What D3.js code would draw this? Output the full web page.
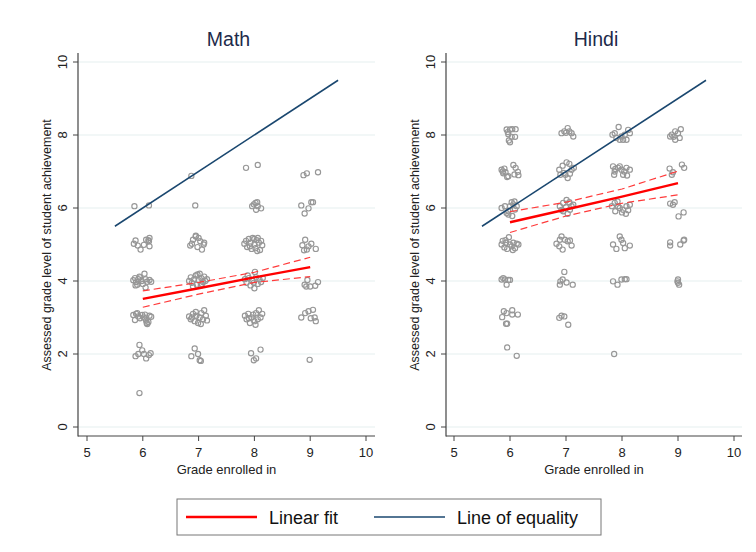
<!DOCTYPE html>
<html lang="en">
<head>
<meta charset="UTF-8">
<title>Math and Hindi</title>
<script src="https://d3js.org/d3.v7.min.js"></script>
<style>
  body, html { margin: 0; padding: 0; background: #fff; }
  svg { font-family: "Liberation Sans", Arial, sans-serif; }
</style>
</head>
<body>
<div id="chart"></div>
<script>
// axis ticks
var xTicks = [5, 6, 7, 8, 9, 10];
var yTicks = [0, 2, 4, 6, 8, 10];
var equalityX = [5.5, 9.5];

// linear fit and its confidence band, read at grades 6..9
var fitGrades = [6, 7, 8, 9];
var mathFit   = [3.51, 3.80, 4.10, 4.38];
var mathUpper = [3.73, 3.96, 4.24, 4.65];
var mathLower = [3.28, 3.64, 3.96, 4.12];
var hindiFit   = [5.61, 5.96, 6.31, 6.68];
var hindiUpper = [5.90, 6.16, 6.52, 7.01];
var hindiLower = [5.33, 5.78, 6.13, 6.36];

// jittered student points [grade, assessed level]
var mathPoints = [
  [5.85,6.05],[6.11,6.07],
  [5.87,5.11],[5.91,4.97],[5.96,4.86],[6.02,4.99],[6.11,5.09],[6.12,5.18],[6.12,4.95],[5.84,5.02],[6.06,5.13],[6.1,5.12],
  [5.83,4.02],[5.86,4.08],[5.88,3.97],[5.92,4.05],[5.95,4.1],[5.9,3.9],[5.98,4.0],[6.03,4.2],[6.05,4.05],[6.08,3.98],[6.0,3.92],[6.12,4.03],[6.15,3.98],[6.05,3.82],[5.94,4.12],[5.87,3.88],
  [5.83,3.07],[5.86,2.93],[5.88,3.1],[5.92,3.03],[5.95,2.98],[5.99,3.07],[6.02,3.0],[6.06,2.92],[6.07,2.85],[6.1,2.88],[6.12,3.05],[6.15,3.02],[6.08,2.82],[5.9,3.12],[6.04,3.08],
  [5.94,2.25],[5.87,1.94],[5.99,2.1],[6.06,1.88],[6.14,2.02],[6.11,1.97],[6.02,2.0],[5.92,2.0],
  [5.94,0.93],
  [6.87,6.88],[6.94,6.07],
  [6.85,4.97],[6.9,5.13],[6.95,5.24],[7.0,5.18],[7.03,5.09],[7.09,5.0],[7.06,4.86],[6.98,4.93],[6.88,5.02],[7.1,5.05],[6.95,5.22],
  [6.83,4.0],[6.86,4.1],[6.88,3.95],[6.92,4.05],[6.95,4.15],[6.97,3.9],[7.0,4.02],[7.02,4.2],[7.05,4.08],[7.08,3.97],[7.1,4.12],[7.12,4.0],[7.15,4.05],[6.9,3.85],[7.04,3.88],[6.98,4.18],[7.06,3.92],
  [6.83,3.03],[6.86,2.95],[6.9,3.1],[6.93,2.9],[6.96,3.05],[6.99,2.85],[7.02,3.0],[7.05,3.12],[7.08,2.95],[7.1,3.2],[7.13,3.05],[7.15,2.92],[6.95,3.15],[7.04,2.82],[6.88,3.0],
  [6.93,2.15],[6.87,1.94],[6.99,2.0],[7.02,1.83],[7.04,1.81],
  [7.85,7.1],[8.06,7.18],
  [7.96,6.05],[8.02,6.14],[8.05,6.16],[8.06,6.05],[8.12,5.99],[8.03,5.95],[7.99,6.1],
  [7.82,5.02],[7.85,5.1],[7.87,4.93],[7.9,5.15],[7.93,5.05],[7.95,4.88],[7.97,5.18],[8.0,5.0],[8.02,4.9],[8.04,5.12],[8.06,5.18],[8.08,5.05],[8.1,4.85],[8.12,5.1],[8.14,4.98],[7.92,4.95],[8.0,5.15],[8.05,4.82],
  [7.83,4.05],[7.86,3.95],[7.9,4.08],[7.93,3.88],[7.96,4.02],[7.99,3.95],[8.01,4.25],[8.03,4.1],[8.06,3.92],[8.09,4.05],[8.12,3.97],[8.15,4.08],[8.0,3.8],[7.88,4.15],
  [7.83,3.05],[7.86,2.95],[7.89,3.1],[7.92,2.85],[7.95,3.0],[7.98,3.08],[8.0,2.9],[8.03,3.12],[8.06,2.95],[8.08,3.2],[8.11,3.0],[8.14,3.1],[7.9,2.98],[8.02,2.8],
  [7.94,2.02],[7.99,1.83],[8.03,1.88],[8.11,2.12],
  [8.88,6.9],[8.94,6.95],[9.14,6.98],
  [8.84,6.07],[8.97,5.99],[8.9,5.85],[9.02,6.16],[9.05,6.16],
  [8.91,5.13],[8.86,4.98],[8.94,4.86],[9.02,5.02],[9.1,4.88],[8.97,4.95],[8.89,4.84],
  [8.9,3.9],[8.95,4.03],[9.0,3.85],[9.09,3.87],[9.14,3.97],[8.93,3.85],
  [8.84,3.0],[8.91,3.12],[8.97,3.17],[9.05,3.21],[9.08,3.0],[9.1,2.9],[9.01,2.98],
  [8.99,1.84]
];

var hindiPoints = [
  [5.94,8.15],[6.0,8.15],[6.04,8.16],[6.1,8.16],[5.97,8.02],[6.03,7.95],[6.09,7.95],[5.98,7.85],[6.0,7.8],[5.96,8.08],
  [5.85,7.05],[5.87,7.0],[5.88,6.95],[5.9,7.08],[5.92,6.98],[6.06,7.18],[6.1,7.1],[6.14,6.99],[6.08,6.92],[5.97,6.87],[6.15,6.9],[5.95,6.85],
  [5.85,6.0],[5.91,6.05],[5.97,5.91],[6.0,6.05],[6.03,6.16],[6.06,6.1],[6.09,5.96],[6.12,6.05],[5.97,5.82],[6.04,5.78],[5.94,5.86],[6.08,6.18],
  [5.85,5.0],[5.87,5.1],[5.9,4.92],[5.93,5.05],[5.95,4.88],[5.98,5.2],[6.0,5.0],[6.03,4.95],[6.06,5.05],[6.09,4.9],[6.12,5.02],[6.15,5.0],[5.92,5.12],[6.05,4.85],
  [5.85,4.04],[5.88,4.08],[5.91,4.04],[5.94,3.9],[5.97,4.03],[6.0,4.03],
  [5.89,3.17],[5.86,3.01],[5.94,3.12],[6.04,3.2],[6.04,3.08],[6.14,3.08],[5.95,2.83],[5.93,2.83],
  [5.95,2.18],[6.12,1.95],
  [6.92,8.05],[6.97,8.1],[7.03,8.19],[7.06,8.1],[7.1,8.05],[7.13,7.96],[7.0,8.06],
  [6.88,7.05],[6.94,7.16],[7.01,7.25],[7.06,7.21],[7.1,7.05],[7.14,7.1],[6.99,6.91],[7.03,6.82],[6.96,6.96],[7.07,6.94],[6.9,6.91],
  [6.89,6.05],[6.95,6.14],[7.01,6.22],[7.06,6.16],[7.1,6.05],[7.13,6.09],[6.95,5.91],[7.03,5.84],[7.07,5.95],[6.92,5.95],[7.0,6.02],
  [6.83,5.02],[6.88,4.95],[6.92,5.22],[6.94,4.86],[6.98,5.13],[7.03,5.09],[7.07,5.11],[7.1,4.97],[6.89,5.13],
  [6.97,4.25],[6.94,4.04],[6.89,3.9],[7.01,3.96],[7.12,3.9],[6.9,3.99],
  [6.88,2.99],[6.92,3.05],[6.97,3.03],[7.04,2.8],
  [7.83,8.01],[7.87,8.05],[7.94,8.22],[7.99,7.96],[8.05,8.01],[8.11,8.14],[8.14,8.05],[7.96,7.87],[8.02,7.87],[7.9,7.92],[8.08,7.87],
  [7.84,7.14],[7.88,7.07],[7.93,7.1],[7.99,7.05],[8.04,7.0],[8.08,7.1],[8.14,7.05],[7.86,6.91],[8.02,6.91],[8.09,6.89],[7.87,7.0],[7.96,7.14],
  [7.82,6.05],[7.87,6.14],[7.92,6.18],[7.96,6.0],[8.02,5.95],[8.08,6.05],[8.14,6.09],[7.88,5.91],[8.0,5.88],[8.07,5.84],[7.93,6.05],[8.11,5.94],
  [7.84,5.0],[7.9,4.88],[7.96,5.22],[8.02,5.04],[8.05,4.9],[8.14,4.97],[7.99,5.13],
  [7.84,3.99],[7.92,3.9],[7.99,4.04],[8.05,4.05],[8.08,4.05],
  [7.86,2.0],
  [8.89,8.01],[8.92,7.95],[8.95,8.1],[9.0,8.05],[9.05,8.16],[9.03,7.92],[8.86,7.96],[8.95,7.87],
  [8.85,7.08],[8.91,6.98],[9.07,7.19],[9.11,7.1],[8.89,6.91],
  [8.86,6.12],[8.91,6.09],[8.94,6.16],[9.01,5.77],[9.1,5.88],
  [8.86,5.06],[8.86,4.97],[9.04,5.0],[9.1,5.11],[9.11,5.13],
  [9.0,4.04],[9.0,3.95],[9.02,3.9],[8.99,3.99]
];

var panels = [
  { title: "Math", points: mathPoints, fit: mathFit, upper: mathUpper, lower: mathLower,
    axisX: 78, x0: 87, x1: 366, right: 375 },
  { title: "Hindi", points: hindiPoints, fit: hindiFit, upper: hindiUpper, lower: hindiLower,
    axisX: 446, x0: 454, x1: 734, right: 742 }
];

var W = 756, H = 552;
var axisY = 436, axisTop = 53;
var navy = "#1a476f", red = "#ff0000";

var svg = d3.select("#chart").append("svg")
  .attr("width", W).attr("height", H);

var y = d3.scaleLinear().domain([0, 10]).range([427, 62]);

panels.forEach(function (p) {
  var x = d3.scaleLinear().domain([5, 10]).range([p.x0, p.x1]);
  var g = svg.append("g");

  // gridlines
  g.selectAll(".grid").data(yTicks).enter().append("line")
    .attr("x1", p.axisX).attr("x2", p.right)
    .attr("y1", d => y(d)).attr("y2", d => y(d))
    .style("stroke", "#e6eff0").style("stroke-width", 1.2);

  // points
  g.selectAll(".pt").data(p.points).enter().append("circle")
    .attr("cx", d => x(d[0])).attr("cy", d => y(d[1]))
    .attr("r", 2.6)
    .style("fill", "none").style("stroke", "#979797").style("stroke-width", 1.15);

  // line of equality
  g.append("line")
    .attr("x1", x(equalityX[0])).attr("y1", y(equalityX[0]))
    .attr("x2", x(equalityX[1])).attr("y2", y(equalityX[1]))
    .style("stroke", navy).style("stroke-width", 1.5);

  var line = d3.line().x((d, i) => x(fitGrades[i])).y(d => y(d));
  [p.upper, p.lower].forEach(function (ci) {
    g.append("path").attr("d", line(ci))
      .style("fill", "none").style("stroke", "#ff3b3b")
      .style("stroke-width", 1.2).style("stroke-dasharray", "7,4");
  });
  g.append("path").attr("d", line(p.fit))
    .style("fill", "none").style("stroke", red).style("stroke-width", 2.4);

  // axes
  g.append("line").attr("x1", p.axisX).attr("x2", p.axisX)
    .attr("y1", axisTop).attr("y2", axisY + 0.5)
    .style("stroke", "#444").style("stroke-width", 1.2);
  g.append("line").attr("x1", p.axisX).attr("x2", p.right)
    .attr("y1", axisY).attr("y2", axisY)
    .style("stroke", "#444").style("stroke-width", 1.2);

  g.selectAll(".yt").data(yTicks).enter().append("line")
    .attr("x1", p.axisX - 5).attr("x2", p.axisX)
    .attr("y1", d => y(d)).attr("y2", d => y(d))
    .style("stroke", "#444");
  g.selectAll(".ytl").data(yTicks).enter().append("text")
    .attr("transform", d => "translate(" + (p.axisX - 11) + "," + y(d) + ") rotate(-90)")
    .attr("text-anchor", "middle")
    .style("font-size", "13px").style("fill", "#222")
    .text(d => d);

  g.selectAll(".xt").data(xTicks).enter().append("line")
    .attr("x1", d => x(d)).attr("x2", d => x(d))
    .attr("y1", axisY).attr("y2", axisY + 5)
    .style("stroke", "#444");
  g.selectAll(".xtl").data(xTicks).enter().append("text")
    .attr("x", d => x(d)).attr("y", axisY + 21)
    .attr("text-anchor", "middle")
    .style("font-size", "13px").style("fill", "#222")
    .text(d => d);

  var cx = (p.axisX + p.right) / 2;
  g.append("text")
    .attr("x", cx).attr("y", axisY + 37.5)
    .attr("text-anchor", "middle")
    .style("font-size", "13px").style("fill", "#222")
    .text("Grade enrolled in");

  g.append("text")
    .attr("transform", "translate(" + (p.axisX - 27) + "," + 245 + ") rotate(-90)")
    .attr("text-anchor", "middle")
    .style("font-size", "12.5px").style("fill", "#222")
    .text("Assessed grade level of student achievement");

  g.append("text")
    .attr("x", cx + 2).attr("y", 46)
    .attr("text-anchor", "middle")
    .style("font-size", "19.5px").style("fill", "#1e2a4a")
    .text(p.title);
});

// legend
var lg = svg.append("g");
lg.append("rect").attr("x", 177).attr("y", 499).attr("width", 424).attr("height", 36)
  .style("fill", "#fff").style("stroke", "#777").style("stroke-width", 1);
lg.append("line").attr("x1", 186).attr("x2", 257).attr("y1", 517).attr("y2", 517)
  .style("stroke", red).style("stroke-width", 2.4);
lg.append("text").attr("x", 269).attr("y", 523.5)
  .style("font-size", "18px").style("fill", "#111").text("Linear fit");
lg.append("line").attr("x1", 374).attr("x2", 445).attr("y1", 517).attr("y2", 517)
  .style("stroke", navy).style("stroke-width", 1.5);
lg.append("text").attr("x", 457).attr("y", 523.5)
  .style("font-size", "18px").style("fill", "#111").text("Line of equality");
</script>
</body>
</html>
